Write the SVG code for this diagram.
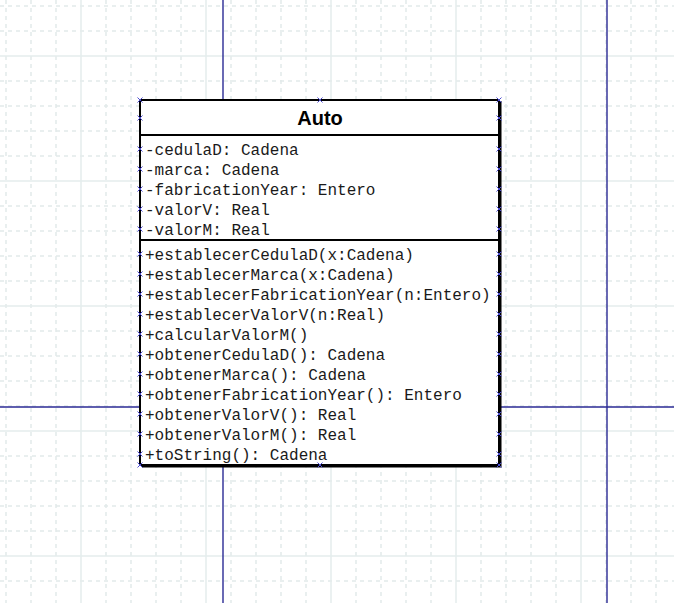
<svg xmlns="http://www.w3.org/2000/svg" width="674" height="603" viewBox="0 0 674 603">
<style>
.minor{stroke:#e2eaea;stroke-width:1.5;stroke-dasharray:4,4;fill:none}
.major{stroke:#e5eded;stroke-width:1.5;fill:none}
.axis{stroke:#2b2b95;stroke-width:1.4;fill:none}
.box{fill:#fff;stroke:#000;stroke-width:2}
.div{stroke:#000;stroke-width:2}
.t{font-family:"Liberation Mono","Courier New",monospace;font-size:16px;fill:#1a1a1a}
.title{font-family:"Liberation Sans",Arial,sans-serif;font-size:20px;font-weight:bold;fill:#000}
.mk{stroke:#4a4ad0;stroke-width:1;fill:none}
</style>
<defs>
<path id="x" class="mk" d="M-2.5,-2.5L2.5,2.5M-2.5,2.5L2.5,-2.5"/>
</defs>
<rect width="674" height="603" fill="#fff"/>
<g id="grid">
<path class="minor" d="M6,0V603M31,0V603M56,0V603M106,0V603M131,0V603M156,0V603M181,0V603M231,0V603M256,0V603M281,0V603M306,0V603M356,0V603M381,0V603M406,0V603M431,0V603M481,0V603M506,0V603M531,0V603M556,0V603M606,0V603M631,0V603M656,0V603"/>
<path class="minor" d="M0,6H674M0,31H674M0,81H674M0,106H674M0,131H674M0,156H674M0,206H674M0,231H674M0,256H674M0,281H674M0,331H674M0,356H674M0,381H674M0,406H674M0,456H674M0,481H674M0,506H674M0,531H674M0,581H674"/>
<path class="major" d="M81,0V603M206,0V603M331,0V603M456,0V603M581,0V603M0,56H674M0,181H674M0,306H674M0,431H674M0,556H674"/>
</g>
<g id="axes">
<path class="axis" d="M223,0V603M607,0V603M0,407H674"/>
</g>
<g id="Auto">
<path d="M142,466.5H500.5V101" stroke="#000" stroke-width="2" fill="none"/>
<rect class="box" x="140" y="100" width="359" height="365"/>
<line class="div" x1="140" y1="135" x2="499" y2="135"/>
<line class="div" x1="140" y1="240" x2="499" y2="240"/>
<text class="title" x="320" y="125" text-anchor="middle">Auto</text>
<text class="t" x="145" y="155">-cedulaD: Cadena</text>
<text class="t" x="145" y="175">-marca: Cadena</text>
<text class="t" x="145" y="195">-fabricationYear: Entero</text>
<text class="t" x="145" y="215">-valorV: Real</text>
<text class="t" x="145" y="235">-valorM: Real</text>
<text class="t" x="145" y="260">+establecerCedulaD(x:Cadena)</text>
<text class="t" x="145" y="280">+establecerMarca(x:Cadena)</text>
<text class="t" x="145" y="300">+establecerFabricationYear(n:Entero)</text>
<text class="t" x="145" y="320">+establecerValorV(n:Real)</text>
<text class="t" x="145" y="340">+calcularValorM()</text>
<text class="t" x="145" y="360">+obtenerCedulaD(): Cadena</text>
<text class="t" x="145" y="380">+obtenerMarca(): Cadena</text>
<text class="t" x="145" y="400">+obtenerFabricationYear(): Entero</text>
<text class="t" x="145" y="420">+obtenerValorV(): Real</text>
<text class="t" x="145" y="440">+obtenerValorM(): Real</text>
<text class="t" x="145" y="460">+toString(): Cadena</text>
<g id="handles">
<use href="#x" x="140" y="100"/><use href="#x" x="320" y="100"/><use href="#x" x="499" y="100"/>
<use href="#x" x="140" y="465"/><use href="#x" x="320" y="465"/><use href="#x" x="499" y="465"/>
<use href="#x" x="140" y="118"/><use href="#x" x="499" y="118"/>
<use href="#x" x="140" y="149"/><use href="#x" x="499" y="149"/>
<use href="#x" x="140" y="169"/><use href="#x" x="499" y="169"/>
<use href="#x" x="140" y="189"/><use href="#x" x="499" y="189"/>
<use href="#x" x="140" y="209"/><use href="#x" x="499" y="209"/>
<use href="#x" x="140" y="229"/><use href="#x" x="499" y="229"/>
<use href="#x" x="140" y="254"/><use href="#x" x="499" y="254"/>
<use href="#x" x="140" y="274"/><use href="#x" x="499" y="274"/>
<use href="#x" x="140" y="294"/><use href="#x" x="499" y="294"/>
<use href="#x" x="140" y="314"/><use href="#x" x="499" y="314"/>
<use href="#x" x="140" y="334"/><use href="#x" x="499" y="334"/>
<use href="#x" x="140" y="354"/><use href="#x" x="499" y="354"/>
<use href="#x" x="140" y="374"/><use href="#x" x="499" y="374"/>
<use href="#x" x="140" y="394"/><use href="#x" x="499" y="394"/>
<use href="#x" x="140" y="414"/><use href="#x" x="499" y="414"/>
<use href="#x" x="140" y="434"/><use href="#x" x="499" y="434"/>
<use href="#x" x="140" y="454"/><use href="#x" x="499" y="454"/>
</g>
</g>
</svg>
